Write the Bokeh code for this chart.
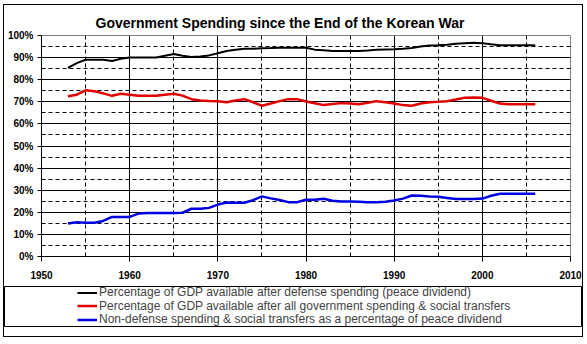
from bokeh.plotting import figure
from bokeh.models import (Range1d, SingleIntervalTicker, FixedTicker, PrintfTickFormatter,
                          Legend, LegendItem)
from bokeh.embed import file_html
from bokeh.resources import INLINE

years = [1953, 1954, 1955, 1956, 1957, 1958, 1959, 1960, 1961, 1962, 1963, 1964, 1965, 1966,
         1967, 1968, 1969, 1970, 1971, 1972, 1973, 1974, 1975, 1976, 1977, 1978, 1979, 1980,
         1981, 1982, 1983, 1984, 1985, 1986, 1987, 1988, 1989, 1990, 1991, 1992, 1993, 1994,
         1995, 1996, 1997, 1998, 1999, 2000, 2001, 2002, 2003, 2004, 2005, 2006]

peace_dividend = [85.3, 87.5, 89.0, 89.0, 89.0, 88.5, 89.5, 90.0, 90.0, 90.0, 90.0, 90.8, 91.6, 90.8,
                  90.3, 90.5, 91.0, 92.0, 93.0, 93.5, 94.0, 94.0, 94.2, 94.3, 94.5, 94.5, 94.5, 94.5,
                  93.6, 93.3, 93.0, 93.0, 93.0, 93.0, 93.2, 93.5, 93.7, 93.8, 94.0, 94.3, 95.0, 95.5,
                  95.6, 95.8, 96.3, 96.5, 96.7, 96.5, 96.0, 95.6, 95.6, 95.6, 95.6, 95.6]

after_all_spending = [72.5, 73.2, 75.2, 74.8, 73.8, 72.7, 73.6, 73.2, 72.7, 72.7, 72.7, 73.2, 73.6, 72.8,
                      71.2, 70.6, 70.4, 70.3, 69.8, 70.6, 71.2, 69.8, 68.2, 69.2, 70.3, 71.2, 71.2, 70.1,
                      69.3, 68.5, 69.0, 69.4, 69.2, 68.9, 69.6, 70.3, 69.8, 69.2, 68.5, 68.2, 69.2, 69.8,
                      70.0, 70.3, 71.0, 71.8, 71.9, 71.8, 70.5, 69.2, 68.9, 68.9, 68.9, 68.9]

nondefense_share = [14.9, 15.5, 15.3, 15.3, 16.1, 17.9, 17.9, 17.9, 19.4, 19.7, 19.7, 19.7, 19.7, 19.8,
                    21.6, 21.6, 22.0, 23.5, 24.4, 24.3, 24.3, 25.5, 27.2, 26.3, 25.6, 24.6, 24.6, 25.7,
                    25.7, 26.1, 25.2, 24.9, 24.9, 24.8, 24.6, 24.6, 24.8, 25.3, 26.2, 27.6, 27.5, 27.2,
                    27.0, 26.5, 26.0, 26.0, 26.0, 26.2, 27.5, 28.4, 28.4, 28.4, 28.4, 28.4]

series_labels = ["Percentage of GDP available after defense spending (peace dividend)",
                 "Percentage of GDP available after all government spending & social transfers",
                 "Non-defense spending & social transfers as a percentage of peace dividend"]
series_colors = ["black", "#e00000", "#0000e0"]
series_widths = [2, 2.5, 2.5]
title_text = "Government Spending since the End of the Korean War"

FONT = "Liberation Sans"

# ---------------- main chart ----------------
p = figure(width=580, height=281, x_range=Range1d(1950, 2010), y_range=Range1d(0, 100),
           output_backend="svg", toolbar_location=None,
           min_border_left=35, min_border_right=14, min_border_top=30, min_border_bottom=30,
           background_fill_color="white", border_fill_color="white",
           margin=(4, 0, 0, 3),
           styles={"border-top": "1px solid black", "border-left": "1px solid black",
                   "border-right": "1px solid black"})
p.outline_line_color = "#808080"

p.title.text = title_text
p.title.align = "left"
p.title.offset = 54
p.title.text_font = FONT
p.title.text_font_size = "14px"
p.title.text_font_style = "bold"
p.title.text_color = "black"
p.title.standoff = 9

p.xaxis.ticker = SingleIntervalTicker(interval=10, num_minor_ticks=0)
p.yaxis.ticker = SingleIntervalTicker(interval=10, num_minor_ticks=0)
p.yaxis.formatter = PrintfTickFormatter(format="%d%%")
for ax in (p.xaxis[0], p.yaxis[0]):
    ax.axis_line_color = "black"
    ax.major_tick_line_color = "black"
    ax.minor_tick_line_color = None
    ax.major_tick_in = 0
    ax.major_label_text_font = FONT
    ax.major_label_text_font_size = "10px"
    ax.major_label_text_font_style = "bold"
    ax.major_label_text_color = "black"
p.xaxis.major_tick_out = 5
p.xaxis.major_label_standoff = 9
p.yaxis.major_tick_out = 4
p.yaxis.major_label_standoff = 4

p.xgrid.ticker = FixedTicker(ticks=[1960, 1970, 1980, 1990, 2000],
                             minor_ticks=[1955, 1965, 1975, 1985, 1995, 2005])
p.ygrid.ticker = FixedTicker(ticks=[10, 20, 30, 40, 50, 60, 70, 80, 90, 100],
                             minor_ticks=[5, 15, 25, 35, 45, 55, 65, 75, 85, 95])
for g in (p.xgrid[0], p.ygrid[0]):
    g.grid_line_color = "black"
    g.grid_line_alpha = 1
    g.grid_line_width = 1
    g.minor_grid_line_color = "black"
    g.minor_grid_line_dash = "4 3"
    g.minor_grid_line_width = 1

for vals, col, w in zip([peace_dividend, after_all_spending, nondefense_share],
                        series_colors, series_widths):
    p.line(years, vals, line_color=col, line_width=w)

# ---------------- legend panel (separate root, frame = legend box) ----------------
pl = figure(width=580, height=52, x_range=Range1d(0, 1), y_range=Range1d(0, 1),
            output_backend="svg", toolbar_location=None,
            x_axis_type=None, y_axis_type=None,
            min_border_left=0, min_border_right=3, min_border_top=1, min_border_bottom=11,
            background_fill_color="white", border_fill_color="white",
            margin=(0, 0, 0, 3),
            styles={"border-bottom": "1px solid black", "border-left": "1px solid black",
                    "border-right": "1px solid black"})
pl.grid.visible = False
pl.outline_line_color = "black"
pl.outline_line_width = 1

row_offsets = [26.8, 13.4, 0.0]   # one compact legend row each (px from the box bottom)
for lab, col, w, oy in zip(series_labels, series_colors, series_widths, row_offsets):
    # legend swatch renderer, kept outside the visible range
    r = pl.line([-2, -1], [-2, -1], line_color=col, line_width=w)
    lg = Legend(items=[LegendItem(label=lab, renderers=[r])], location=(73, oy),
                orientation="vertical", padding=0, margin=0, spacing=0,
                glyph_width=20, glyph_height=11, label_height=11, label_standoff=2,
                label_text_font=FONT, label_text_font_size="12px",
                border_line_alpha=0, background_fill_alpha=0)
    pl.add_layout(lg, "center")

open("out.html", "w").write(file_html([p, pl], INLINE))
